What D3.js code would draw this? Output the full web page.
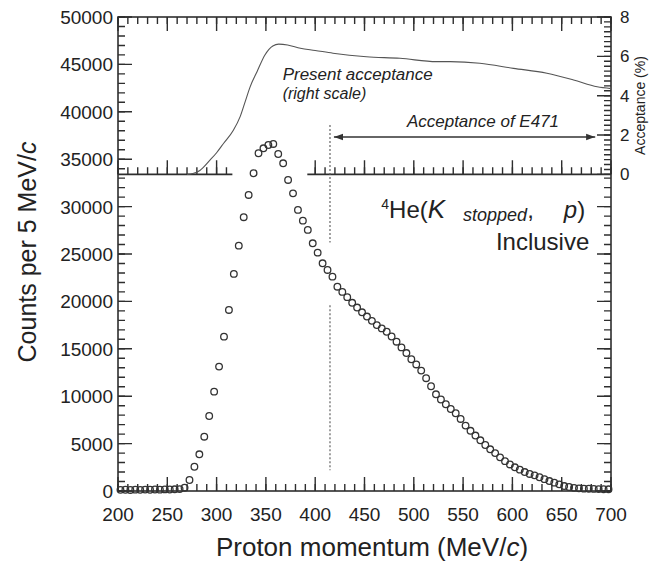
<!DOCTYPE html>
<html lang="en">
<head>
<meta charset="UTF-8">
<title>4He(K stopped, p) inclusive</title>
<script src="https://d3js.org/d3.v7.min.js"></script>
<style>
  body { margin: 0; background: #fff; }
  svg text { font-family: "Liberation Sans", Arial, Helvetica, sans-serif; fill: #222; }
</style>
</head>
<body>
<svg></svg>
<script>
// proton momentum bin centres (MeV/c)
let momentum = [
  202.5, 207.5, 212.5, 217.5, 222.5, 227.5, 232.5, 237.5, 242.5, 247.5,
  252.5, 257.5, 262.5, 267.5, 272.5, 277.5, 282.5, 287.5, 292.5, 297.5,
  302.5, 307.5, 312.5, 317.5, 322.5, 327.5, 332.5, 337.5, 342.5, 347.5,
  352.5, 357.5, 362.5, 367.5, 372.5, 377.5, 382.5, 387.5, 392.5, 397.5,
  402.5, 407.5, 412.5, 417.5, 422.5, 427.5, 432.5, 437.5, 442.5, 447.5,
  452.5, 457.5, 462.5, 467.5, 472.5, 477.5, 482.5, 487.5, 492.5, 497.5,
  502.5, 507.5, 512.5, 517.5, 522.5, 527.5, 532.5, 537.5, 542.5, 547.5,
  552.5, 557.5, 562.5, 567.5, 572.5, 577.5, 582.5, 587.5, 592.5, 597.5,
  602.5, 607.5, 612.5, 617.5, 622.5, 627.5, 632.5, 637.5, 642.5, 647.5,
  652.5, 657.5, 662.5, 667.5, 672.5, 677.5, 682.5, 687.5, 692.5, 697.5
];
// counts per 5 MeV/c
let counts = [
  120, 130, 110, 140, 120, 150, 130, 160, 140, 170,
  160, 180, 200, 350, 1160, 2560, 3870, 5730, 7910, 10480,
  13120, 16280, 19100, 22900, 25880, 28880, 31230, 33520, 35630, 36150,
  36500, 36610, 35550, 34570, 32810, 31400, 29650, 28520, 27540, 26130,
  25140, 24020, 23320, 22610, 21550, 21000, 20450, 19850, 19350, 18850,
  18400, 17950, 17500, 17150, 16800, 16300, 15750, 15150, 14550, 13900,
  13350, 12700, 11900, 11050, 10200, 9650, 9150, 8650, 8200, 7600,
  6900, 6350, 5850, 5350, 4850, 4400, 4000, 3550, 3150, 2800,
  2500, 2250, 2000, 1800, 1650, 1450, 1250, 1050, 880, 700,
  520, 420, 330, 280, 250, 240, 220, 200, 190, 180
];

// present acceptance curve (right scale, %)
let accMomentum = [270, 276, 283, 293, 300, 307, 317, 324, 329, 334, 341, 349, 357, 363, 372,
  385, 400, 418, 452, 486, 523, 537, 567, 601, 635, 662, 686, 700];
let accPercent = [0, 0.04, 0.2, 0.71, 1.1, 1.57, 2.24, 2.95, 3.7, 4.45, 5.22, 6.07, 6.53, 6.62, 6.58,
  6.41, 6.3, 6.16, 5.98, 5.9, 5.73, 5.73, 5.65, 5.39, 5.14, 4.8, 4.45, 4.36];

// axis ticks
let xTicks = [200, 250, 300, 350, 400, 450, 500, 550, 600, 650, 700];
let countTicks = [0, 5000, 10000, 15000, 20000, 25000, 30000, 35000, 40000, 45000, 50000];
let accTicks = [0, 2, 4, 6, 8];

// counts where the two panels meet, and the gap left in that line for the peak
let splitCount = 33400;
let splitGap = [316, 392];
// E471 acceptance: cut-off line and arrow
let e471Cut = 415;
let e471Arrow = [419, 684];
let e471ArrowLevel = 1.9;
let cutSegments = [[38600, 26200], [19600, 2200]];

let width = 650, height = 564;
let svg = d3.select("svg").attr("width", width).attr("height", height);

let plotLeft = 118, plotRight = 611, plotTop = 17, plotBottom = 491;
let ink = "#2e2e2e";

let x = d3.scaleLinear().domain([200, 700]).range([plotLeft, plotRight]);
let y = d3.scaleLinear().domain([0, 50000]).range([plotBottom, plotTop]);
let ySplit = y(splitCount);
let yAcc = d3.scaleLinear().domain([0, 8]).range([ySplit, plotTop]);

let xMinor = d3.range(200, 701, 10);
let countMinor = d3.range(0, 50001, 1000);
let accMinor = d3.range(0, 8.001, 0.25);

// frame
svg.append("rect")
    .attr("x", plotLeft).attr("y", plotTop)
    .attr("width", plotRight - plotLeft).attr("height", plotBottom - plotTop)
    .attr("fill", "none").attr("stroke", ink).attr("stroke-width", 1.6);

[[200, splitGap[0]], [splitGap[1], 700]].forEach(s => {
    svg.append("line")
        .attr("x1", x(s[0])).attr("x2", x(s[1]))
        .attr("y1", ySplit).attr("y2", ySplit)
        .attr("stroke", ink).attr("stroke-width", 1.6);
});

// tick marks, one path per edge
function tickPath(segments) {
    let p = d3.path();
    segments.forEach(s => { p.moveTo(s[0], s[1]); p.lineTo(s[2], s[3]); });
    svg.append("path")
        .attr("d", p.toString())
        .attr("fill", "none")
        .attr("stroke", ink)
        .attr("stroke-width", 1.4);
}
// vertical ticks on a horizontal edge at y0 (len < 0 points up)
let vTicks = (values, y0, len) => tickPath(values.map(v => [x(v), y0, x(v), y0 + len]));
// horizontal ticks on a vertical edge at x0 (len < 0 points left)
let hTicks = (values, scale, x0, len) => tickPath(values.map(v => [x0, scale(v), x0 + len, scale(v)]));

vTicks(xMinor, plotBottom, -7);
vTicks(xTicks, plotBottom, -14);
vTicks(xMinor, plotTop, 7);
vTicks(xTicks, plotTop, 14);

let sepKeep = v => v <= splitGap[0] - 5 || v >= splitGap[1] + 5;
vTicks(xMinor.filter(sepKeep), ySplit, -7);
vTicks(xTicks.filter(sepKeep), ySplit, -14);

hTicks(countMinor, y, plotLeft, 7);
hTicks(countTicks, y, plotLeft, 14);

hTicks(countMinor.filter(v => v <= splitCount), y, plotRight, -7);
hTicks(countTicks.filter(v => v <= splitCount), y, plotRight, -14);
hTicks(accMinor, yAcc, plotRight, -7);
hTicks(accTicks, yAcc, plotRight, -14);

// tick labels
svg.append("g").selectAll("text")
    .data(xTicks)
    .enter()
    .append("text")
    .attr("x", d => x(d)).attr("y", plotBottom + 30)
    .attr("text-anchor", "middle")
    .style("font-size", "19px")
    .text(d => d);

svg.append("g").selectAll("text")
    .data(countTicks)
    .enter()
    .append("text")
    .attr("x", plotLeft - 5).attr("y", d => y(d) + 7)
    .attr("text-anchor", "end")
    .style("font-size", "19px")
    .text(d => d);

svg.append("g").selectAll("text")
    .data(accTicks)
    .enter()
    .append("text")
    .attr("x", plotRight + 9).attr("y", d => yAcc(d) + 6)
    .style("font-size", "17px")
    .text(d => d);

// acceptance curve
let accLine = d3.line()
    .x((d, i) => x(accMomentum[i]))
    .y(d => yAcc(d))
    .curve(d3.curveMonotoneX);
svg.append("path")
    .attr("d", accLine(accPercent))
    .attr("fill", "none")
    .attr("stroke", "#555")
    .attr("stroke-width", 1.1);

// E471 cut
cutSegments.forEach(s => {
    svg.append("line")
        .attr("x1", x(e471Cut)).attr("x2", x(e471Cut))
        .attr("y1", y(s[0])).attr("y2", y(s[1]))
        .attr("stroke", "#555").attr("stroke-width", 1.1)
        .attr("stroke-dasharray", "2,2");
});

let defs = svg.append("defs");
defs.append("marker")
    .attr("id", "head").attr("viewBox", "0 0 10 10")
    .attr("refX", 10).attr("refY", 5)
    .attr("markerWidth", 7).attr("markerHeight", 7)
    .attr("orient", "auto-start-reverse")
    .append("path").attr("d", "M0,1.5L10,5L0,8.5Z").attr("fill", "#333");

svg.append("line")
    .attr("x1", x(e471Arrow[0])).attr("x2", x(e471Arrow[1]))
    .attr("y1", yAcc(e471ArrowLevel)).attr("y2", yAcc(e471ArrowLevel))
    .attr("stroke", "#333").attr("stroke-width", 1.3)
    .attr("marker-start", "url(#head)")
    .attr("marker-end", "url(#head)");

// data points
svg.append("g")
    .selectAll("circle")
    .data(counts)
    .enter()
    .append("circle")
    .attr("cx", (d, i) => x(momentum[i]))
    .attr("cy", d => y(d))
    .attr("r", 3.3)
    .attr("fill", "none")
    .attr("stroke", "#333")
    .attr("stroke-width", 1.3);

// annotations
svg.append("text")
    .attr("x", x(367)).attr("y", yAcc(4.8))
    .style("font-size", "16px").style("font-style", "italic")
    .attr("textLength", 150).attr("lengthAdjust", "spacingAndGlyphs")
    .text("Present acceptance");
svg.append("text")
    .attr("x", x(367)).attr("y", yAcc(3.83))
    .style("font-size", "16px").style("font-style", "italic")
    .text("(right scale)");
svg.append("text")
    .attr("x", x(493)).attr("y", yAcc(2.4))
    .style("font-size", "17px").style("font-style", "italic")
    .text("Acceptance of E471");

let reaction = svg.append("text")
    .attr("x", x(467)).attr("y", y(28800))
    .style("font-size", "24px");
reaction.append("tspan").attr("dy", -9).style("font-size", "14px").text("4");
reaction.append("tspan").attr("dy", 9).text("He(");
reaction.append("tspan").style("font-style", "italic").style("font-size", "26px").text("K");
reaction.append("tspan").attr("dx", 18).attr("dy", 3).style("font-style", "italic").style("font-size", "18px").text("stopped");
reaction.append("tspan").attr("dy", -3).text(",");
reaction.append("tspan").attr("dx", 30).style("font-style", "italic").text("p");
reaction.append("tspan").text(")");

svg.append("text")
    .attr("x", x(678)).attr("y", y(25430))
    .attr("text-anchor", "end")
    .style("font-size", "24px")
    .text("Inclusive");

// axis titles
let xTitle = svg.append("text")
    .attr("x", 372).attr("y", 556)
    .attr("text-anchor", "middle")
    .style("font-size", "26px");
xTitle.append("tspan").text("Proton momentum (MeV/");
xTitle.append("tspan").style("font-style", "italic").text("c");
xTitle.append("tspan").text(")");

let yTitle = svg.append("text")
    .attr("transform", "translate(36," + ((plotTop + plotBottom) / 2 - 2) + ") rotate(-90)")
    .attr("text-anchor", "middle")
    .style("font-size", "25px");
yTitle.append("tspan").text("Counts per 5 MeV/");
yTitle.append("tspan").style("font-style", "italic").text("c");

svg.append("text")
    .attr("transform", "translate(645," + yAcc(3.5) + ") rotate(-90)")
    .attr("text-anchor", "middle")
    .style("font-size", "14px")
    .text("Acceptance (%)");
</script>
</body>
</html>
